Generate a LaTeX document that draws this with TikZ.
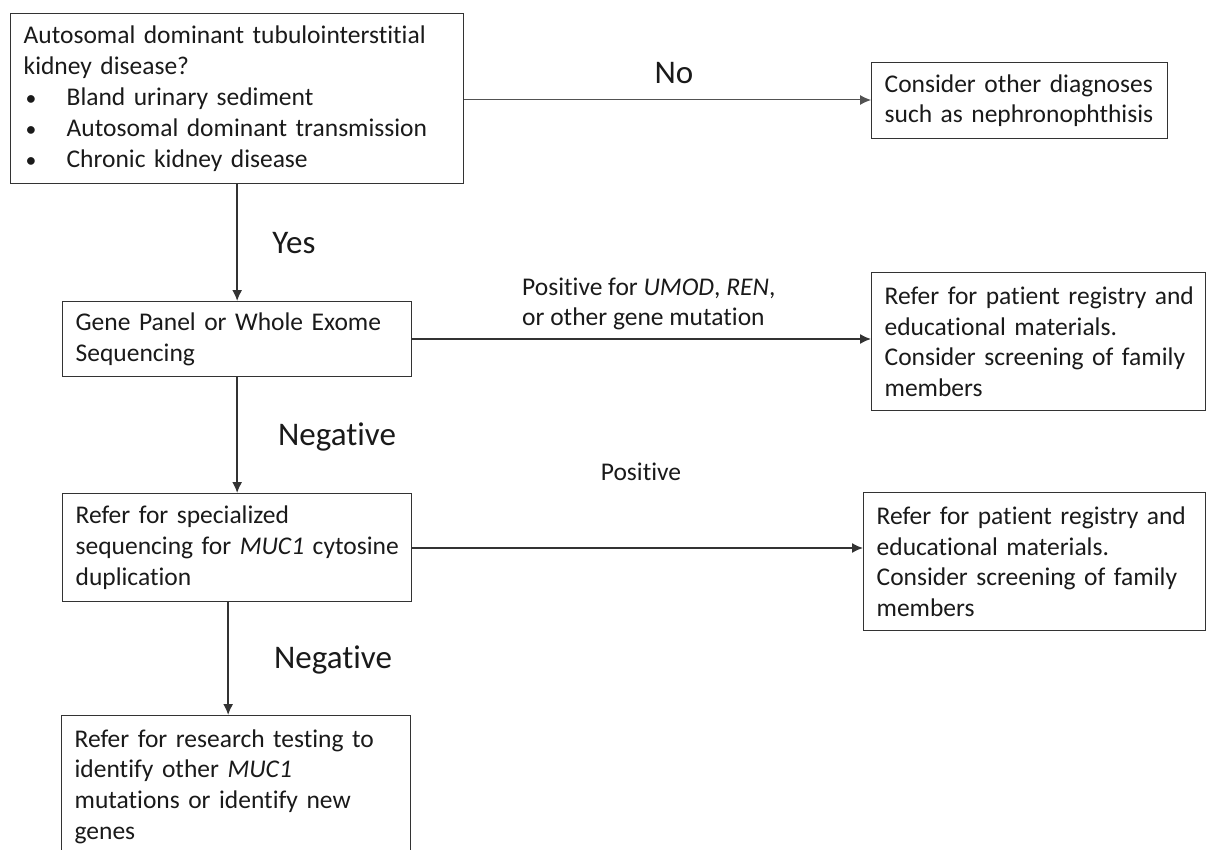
\documentclass[tikz,border=0pt]{standalone}
\usepackage{fontspec}
\setmainfont{Carlito}[Ligatures=NoCommon]
\usetikzlibrary{arrows.meta,positioning,calc}
\definecolor{ink}{HTML}{1A1A1A}
\definecolor{linec}{HTML}{333333}
\hfuzz=200pt
\hbadness=10000
\newcommand{\bul}{\makebox[43pt][l]{\hspace{2pt}\scalebox{0.85}{\textbullet}}}
\newcommand{\Ln}[1]{\mbox{#1}}
\tikzset{
  box/.style={draw=linec, line width=1.3pt, rectangle, align=left, anchor=north west,
    inner xsep=13pt, inner ysep=4pt, text=ink,
    font=\fontsize{25.5}{30.8}\selectfont},
  lbl/.style={text=ink, font=\fontsize{33}{38}\selectfont, inner sep=0pt},
  slbl/.style={text=ink, font=\fontsize{25.5}{30.8}\selectfont, inner sep=0pt, align=left},
  arr/.style={draw=linec, line width=1.5pt, -{Latex[length=11pt,width=10pt]}},
  thinarr/.style={draw=linec!85, line width=1pt, -{Latex[length=11pt,width=10pt]}}
}
\begin{document}
\begin{tikzpicture}[x=1pt,y=-1pt]
\useasboundingbox (0,0) rectangle (1209,850);
\clip (0,0) rectangle (1209,850);
\fill[white] (0,0) rectangle (1209,850);

\node[box, minimum width=453, minimum height=170, text width=427] (q) at (10,13)
{\Ln{Autosomal dominant tubulointerstitial}\\\Ln{kidney disease?}\\\Ln{\bul Bland urinary sediment}\\\Ln{\bul Autosomal dominant transmission}\\\Ln{\bul Chronic kidney disease}};

\node[box, minimum width=296, minimum height=76, text width=270] (other) at (871,62)
{\Ln{Consider other diagnoses}\\\Ln{such as nephronophthisis}};

\node[box, minimum width=349, minimum height=75, text width=323] (gene) at (62,301)
{\Ln{Gene Panel or Whole Exome}\\\Ln{Sequencing}};

\node[box, minimum width=334, minimum height=138, text width=308] (reg1) at (871,272)
{\Ln{Refer for patient registry and}\\\Ln{educational materials.}\\\Ln{Consider screening of family}\\\Ln{members}};

\node[box, minimum width=349, minimum height=108, text width=323] (muc) at (62,493)
{\Ln{Refer for specialized}\\\Ln{sequencing for \textit{MUC1} cytosine}\\\Ln{duplication}};

\node[box, minimum width=342, minimum height=138, text width=316] (reg2) at (863,492)
{\Ln{Refer for patient registry and}\\\Ln{educational materials.}\\\Ln{Consider screening of family}\\\Ln{members}};

\node[box, minimum width=349, minimum height=142, text width=323] (res) at (61,715)
{\Ln{Refer for research testing to}\\\Ln{identify other \textit{MUC1}}\\\Ln{mutations or identify new}\\\Ln{genes}};

% connectors
\draw[thinarr] (q.east |- 0,100) -- (other.west |- 0,100);
\draw[arr] (q.south) -- (gene.north);
\draw[arr] (gene.east |- 0,339) -- (reg1.west |- 0,339);
\draw[arr] (gene.south) -- (muc.north);
\draw[arr] (muc.east |- 0,548) -- (reg2.west |- 0,548);
\draw[arr] ([xshift=-9pt]muc.south) -- ([xshift=-8pt]res.north);

% labels
\node[lbl] (lno) at (674,73) {No};
\node[lbl] (lyes) at (294,243) {Yes};
\node[lbl] (lneg1) at (337,437) {Negative};
\node[lbl] (lneg2) at (333,660) {Negative};
\node[slbl, anchor=west] (lpos1) at (522,304) {Positive for \textit{UMOD}, \textit{REN},\\or other gene mutation};
\node[slbl] (lpos2) at (641,472) {Positive};
\end{tikzpicture}
\end{document}
